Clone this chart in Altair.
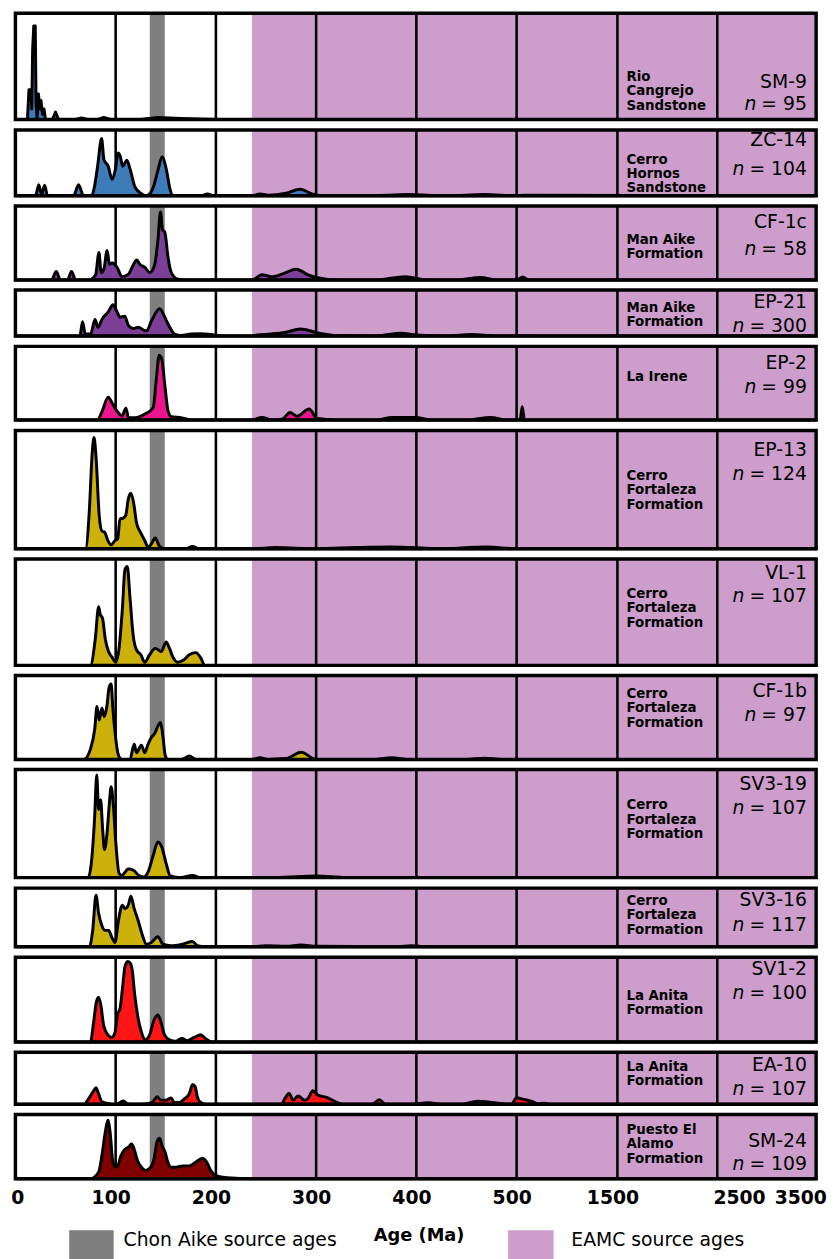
import altair as alt
import pandas as pd

# ---------------- data ----------------
SAMPLES = ["SM-9", "ZC-14", "CF-1c", "EP-21", "EP-2", "EP-13", "VL-1", "CF-1b",
           "SV3-19", "SV3-16", "SV1-2", "EA-10", "SM-24"]
N_VALUES = [95, 104, 58, 300, 99, 124, 107, 97, 107, 117, 100, 107, 109]
FORMATIONS = ["Rio\nCangrejo\nSandstone", "Cerro\nHornos\nSandstone",
              "Man Aike\nFormation", "Man Aike\nFormation", "La Irene",
              "Cerro\nFortaleza\nFormation", "Cerro\nFortaleza\nFormation",
              "Cerro\nFortaleza\nFormation", "Cerro\nFortaleza\nFormation",
              "Cerro\nFortaleza\nFormation", "La Anita\nFormation",
              "La Anita\nFormation", "Puesto El\nAlamo\nFormation"]

TICK_AGES = [0, 100, 200, 300, 400, 500, 1500, 2500, 3500]
GRID_AGES = [100, 200, 300, 400, 500, 1500, 2500]
CHON_AIKE = [134, 149]
EAMC = [236, 3500]

# relative density (fraction of panel height) vs age (Ma)
SM9_AGE = [0, 12, 13.5, 15.5, 16.3, 17.2, 18.3, 19.8, 20.6, 21.6, 23, 24.4, 25.5, 27, 28.5, 30, 37, 40, 43, 60,
           66, 72, 82, 88, 95, 125, 142, 165, 200, 3500]
SM9_DEN = [0, 0, 0.28, 0.28, 0.1, 0.66, 0.88, 0.88, 0.15, 0.02, 0.24, 0.1, 0.18, 0.05, 0.1, 0, 0, 0.07, 0, 0,
           0.015, 0, 0, 0.02, 0, 0, 0.02, 0.01, 0, 0]

ZC14_AGE = [0, 20, 23.3, 26, 29.2, 32, 58, 63, 68, 76, 79, 82, 86, 88.3, 92.5, 96.5, 99.7, 102.4, 104.6, 107,
            111.2, 114.5, 119.4, 126, 129.5, 134, 138, 142.4, 146.3, 150.6, 153.9, 157, 185, 191.6, 198, 236, 244,
            252, 270, 284, 296, 310, 350, 392, 430, 468, 500, 580, 3500]
ZC14_DEN = [0, 0, 0.17, 0.02, 0.16, 0, 0, 0.17, 0, 0, 0.15, 0.45, 0.87, 0.55, 0.45, 0.25, 0.4, 0.65, 0.6, 0.45,
            0.54, 0.4, 0.13, 0.03, 0, 0.03, 0.15, 0.4, 0.59, 0.4, 0.12, 0, 0, 0.03, 0, 0, 0.03,
            0.01, 0.04, 0.1, 0.03, 0, 0, 0.02, 0, 0.02, 0, 0.01, 0]

CF1C_AGE = [0, 36, 40.7, 45, 52, 56, 60, 73.5, 80, 83.3, 85.6, 88.3, 91.5, 93.8, 96.5, 101.4, 106.3, 112.9, 117.8,
            121, 124.3, 129.2, 134.2, 139, 142.4, 144.7, 146.7, 149, 152.3, 155.5, 162, 170, 236, 246, 256, 268,
            280, 292, 300, 323, 360, 389, 410, 440, 464, 480, 505, 560, 620, 3500]
CF1C_DEN = [0, 0, 0.115, 0, 0, 0.115, 0, 0, 0.07, 0.37, 0.1, 0.15, 0.4, 0.21, 0.23, 0.17, 0.045, 0.08, 0.21,
            0.27, 0.21, 0.17, 0.1, 0.21, 0.57, 0.92, 0.68, 0.65, 0.3, 0.1, 0.01, 0, 0, 0.07, 0.045, 0.09,
            0.146, 0.07, 0.035, 0, 0, 0.045, 0, 0, 0.035, 0, 0, 0.04, 0, 0]

EP21_AGE = [0, 64.3, 67, 69.6, 75, 79.4, 82.3, 86.6, 92.5, 97.4, 101.4, 104.6, 109, 112.9, 117.8, 122.7, 127.6,
            130.9, 135.8, 144, 149, 153.9, 158.8, 165, 175, 185, 195, 205, 236, 241, 255, 270, 284, 303, 320,
            360, 385, 400, 430, 455, 480, 3500]
EP21_DEN = [0, 0, 0.31, 0.04, 0.04, 0.36, 0.19, 0.37, 0.52, 0.68, 0.52, 0.41, 0.43, 0.22, 0.16, 0.19, 0.13,
            0.11, 0.33, 0.59, 0.41, 0.19, 0.04, 0.01, 0.04, 0.05, 0.03, 0, 0, 0.02, 0.04, 0.08, 0.15, 0.06, 0.01,
            0, 0.06, 0.02, 0, 0.03, 0, 0]

EP2_AGE = [0, 81.7, 86.6, 92.5, 96.5, 101.4, 106.3, 110.2, 112.9, 119.4, 129.2, 137.5, 140.7, 143.4, 146, 149,
           152.3, 155.5, 165.4, 175, 236, 246, 256, 266, 274, 281, 293, 301, 320, 360, 376, 399, 415, 450, 474,
           490, 535, 556, 577, 3500]
EP2_DEN = [0, 0, 0.12, 0.31, 0.23, 0.12, 0.054, 0.16, 0.03, 0.03, 0.08, 0.17, 0.57, 0.88, 0.83, 0.48,
           0.12, 0.045, 0.03, 0, 0, 0.035, 0, 0.01, 0.1, 0.05, 0.15, 0.02, 0, 0, 0.035, 0.035, 0, 0, 0.035,
           0, 0, 0.18, 0, 0]

EP13_AGE = [0, 69.9, 73.8, 76.4, 78.4, 80.4, 83.6, 86.3, 89, 92.2, 95.5, 99.4, 102, 104.3, 107.7, 110, 112.6,
            115.2, 117.9, 120.8, 124.1, 129, 132.3, 135.6, 139.5, 143.8, 148.7, 170, 176.7, 183, 236, 260, 300,
            340, 375, 395, 420, 470, 500, 3500]
EP13_DEN = [0, 0, 0.33, 0.78, 0.94, 0.78, 0.28, 0.15, 0.14, 0.07, 0.033, 0.07, 0.083, 0.25, 0.26, 0.28, 0.42,
            0.47, 0.39, 0.22, 0.15, 0.07, 0.014, 0.04, 0.09, 0.02, 0, 0, 0.02, 0, 0, 0.01, 0,
            0.01, 0.015, 0.01, 0, 0.015, 0, 0]

VL1_AGE = [0, 74.8, 79.7, 83, 84.6, 87, 89.6, 92.9, 96.2, 100.1, 103.4, 106.7, 109.3, 111.6, 114.2, 117.5,
           120.8, 125.1, 129, 133.9, 139.5, 145.5, 150.4, 153.7, 157, 161.9, 167.8, 173.4, 180, 184.9, 188.9, 3500]
VL1_DEN = [0, 0, 0.25, 0.55, 0.48, 0.44, 0.25, 0.13, 0.08, 0.03, 0.16, 0.53, 0.9, 0.93, 0.65, 0.28,
           0.145, 0.1, 0.03, 0.1, 0.16, 0.13, 0.22, 0.16, 0.08, 0.03, 0.05, 0.1, 0.12, 0.07, 0, 0]

CF1B_AGE = [0, 68.2, 74.8, 79.1, 81.4, 83.6, 86.3, 88.6, 91.2, 93.5, 95.5, 97.1, 99.4, 102.8, 106, 114.2, 118.5,
            120.8, 125.7, 129, 132.3, 135.6, 139.5, 142.2, 144.8, 147.1, 149.4, 152, 166, 173.4, 180, 236, 244,
            252, 270, 285, 300, 320, 360, 375, 390, 450, 468, 485, 3500]
CF1B_DEN = [0, 0, 0.12, 0.36, 0.63, 0.47, 0.61, 0.51, 0.63, 0.86, 0.9, 0.63, 0.32, 0.05, 0, 0, 0.18,
            0.08, 0.17, 0.08, 0.18, 0.26, 0.32, 0.4, 0.44, 0.28, 0.05, 0, 0, 0.04, 0, 0, 0.02,
            0, 0.01, 0.085, 0, 0, 0, 0.02, 0, 0, 0.015, 0, 0]

SV319_AGE = [0, 72.5, 75.8, 79.1, 81.1, 83, 85, 87, 88.9, 91.5, 93.5, 95.5, 97.8, 100.1, 103.4, 106, 112.6,
             117.5, 123.1, 128, 132.3, 137.3, 142.2, 146.1, 150.4, 154.6, 165, 176.7, 185, 260, 300, 330, 3500]
SV319_DEN = [0, 0, 0.14, 0.57, 0.95, 0.63, 0.72, 0.45, 0.26, 0.42, 0.66, 0.84, 0.66, 0.33, 0.04, 0.02, 0.08,
             0.07, 0.02, 0.005, 0.05, 0.2, 0.33, 0.28, 0.13, 0.015, 0, 0.02, 0, 0, 0.015, 0, 0]

SV316_AGE = [0, 73.8, 77.1, 80.4, 83, 86.3, 89.6, 93, 96.2, 99.4, 102.8, 106.7, 109.3, 112.6, 115.2, 118.5,
             122.4, 126.3, 130.6, 135.6, 142.2, 147.1, 155, 166.9, 176.7, 181.6, 190, 236, 250, 270, 285, 300,
             380, 395, 410, 3500]
SV316_DEN = [0, 0, 0.28, 0.88, 0.57, 0.36, 0.28, 0.28, 0.16, 0.075, 0.45, 0.71, 0.65, 0.71, 0.86, 0.65,
             0.45, 0.22, 0.046, 0.075, 0.17, 0.046, 0.02, 0.046, 0.09, 0.02, 0, 0, 0.02, 0.01, 0.03, 0.01,
             0, 0.02, 0, 0]

SV12_AGE = [0, 74.8, 78.1, 80.7, 83, 85.3, 88, 92.2, 96.2, 99.4, 102, 104.3, 106.7, 109.3, 111.9, 114.6, 116.5,
            119.1, 122.4, 125.7, 129.7, 133.9, 138.3, 142.2, 145.5, 148.7, 153.7, 160, 166.2, 171.1, 178.3,
            184.9, 189.8, 196, 3500]
SV12_DEN = [0, 0, 0.24, 0.47, 0.53, 0.43, 0.2, 0.085, 0.054, 0.115, 0.33, 0.39, 0.62, 0.89, 0.95, 0.93, 0.85,
            0.55, 0.28, 0.115, 0.027, 0.085, 0.26, 0.32, 0.22, 0.085, 0.027, 0.01, 0.046, 0.015, 0.054,
            0.085, 0.04, 0, 0]

EA10_AGE = [0, 68.2, 73.8, 78.1, 80.4, 83, 86.3, 92.9, 100, 104.3, 107.7, 111, 116, 132.3, 137.3, 141.5, 144.8,
            150.4, 155.3, 158.6, 163.5, 168.4, 173.4, 176.7, 179.3, 181.6, 184.9, 190, 265.5, 268.8, 273, 277,
            281.9, 288.5, 291.8, 296.7, 301.6, 311.5, 318, 326.2, 355.8, 363, 369, 395, 411.7, 425, 445, 461,
            477.4, 495, 500.5, 559, 609, 658, 708, 774, 836, 3500]
EA10_DEN = [0, 0, 0.13, 0.26, 0.32, 0.2, 0.05, 0.013, 0, 0.033, 0.066, 0.02, 0, 0.013, 0.05, 0.145, 0.08,
            0.08, 0.12, 0.033, 0.033, 0.1, 0.2, 0.38, 0.34, 0.13, 0.033, 0, 0, 0.11, 0.21, 0.08,
            0.16, 0.08, 0.11, 0.26, 0.18, 0.125, 0.06, 0, 0, 0.09, 0, 0, 0.03, 0, 0, 0.06,
            0.03, 0, 0.125, 0.1, 0.08, 0.05, 0.01, 0.02, 0, 0]

SM24_AGE = [0, 74.8, 83, 86.3, 89.6, 92.2, 94.5, 96.8, 99.4, 102, 105.3, 109.3, 112.6, 115.9, 118.5, 121.8,
            125.7, 129.7, 133.9, 138.3, 141.5, 143.8, 146.4, 149.4, 152, 155.3, 160.3, 166.9, 173.4, 180, 186.6,
            190.8, 194.8, 199.7, 211.2, 237, 3500]
SM24_DEN = [0, 0, 0.1, 0.36, 0.72, 0.91, 0.72, 0.31, 0.18, 0.2, 0.36, 0.46, 0.49, 0.54, 0.46, 0.28,
            0.18, 0.13, 0.16, 0.31, 0.59, 0.63, 0.51, 0.41, 0.26, 0.18, 0.18, 0.2, 0.2, 0.26, 0.32,
            0.26, 0.13, 0.05, 0.015, 0, 0]

AGES = [SM9_AGE, ZC14_AGE, CF1C_AGE, EP21_AGE, EP2_AGE, EP13_AGE, VL1_AGE, CF1B_AGE,
        SV319_AGE, SV316_AGE, SV12_AGE, EA10_AGE, SM24_AGE]
DENS = [SM9_DEN, ZC14_DEN, CF1C_DEN, EP21_DEN, EP2_DEN, EP13_DEN, VL1_DEN, CF1B_DEN,
        SV319_DEN, SV316_DEN, SV12_DEN, EA10_DEN, SM24_DEN]

# ---------------- styling / layout ----------------
BLUE, PURPLE, MAGENTA, OLIVE, RED, DARKRED = "#3E7CB9", "#7B3F98", "#EC168C", "#CCB10A", "#FE1414", "#800000"
COLORS = [BLUE, BLUE, PURPLE, PURPLE, MAGENTA, OLIVE, OLIVE, OLIVE, OLIVE, OLIVE, RED, RED, DARKRED]
INTERP = ["linear"] + ["monotone"] * 12
PINK = "#CD9DCB"
GRAY = "#7F7F7F"
FONT = "DejaVu Sans"

W = 810
HEIGHTS = [107.5, 66.7, 74.8, 46.4, 74.4, 119.7, 107.7, 84.8, 109.4, 59.4, 85.7, 52.7, 65]
FORM_Y = [68.5, 34, 38, 22, 35.5, 50, 39.5, 22.7, 40.3, 17, 43.3, 19, 19.7]
ID_Y = [76, 16.7, 22.7, 18.3, 22.5, 26, 20, 22, 21, 18.5, 18, 19.5, 33]
N_Y = [98, 45.7, 49.4, 42, 47.3, 50, 44, 46, 45, 43, 42, 43, 56]
FORM_X = 618.1
ID_X = 800.7
ID_SIZE = 19

XS = alt.Scale(domain=[0, 500, 1500, 2500, 3500], range=[0, 507, 609, 710, W], nice=False, zero=False)

BOTTOM_AXIS = alt.Axis(
    values=TICK_AGES, format="d", title=None, grid=False, ticks=False, domain=False,
    labelFont=FONT, labelFontWeight="bold", labelFontSize=19, labelColor="black",
    labelPadding=10, labelFlush=False, labelOverlap=False,
    labelOffset={"condition": [{"test": "datum.value == 0", "value": 2},
                               {"test": "datum.value == 2500", "value": 22},
                               {"test": "datum.value == 3500", "value": -16}],
                 "value": -5},
)


def panel(i):
    h = HEIGHTS[i]
    last = i == len(SAMPLES) - 1
    ax = BOTTOM_AXIS if last else None

    def X(field):
        return alt.X(field, scale=XS, axis=ax, title=None)

    eamc = alt.Chart(pd.DataFrame({"a": [EAMC[0]], "b": [EAMC[1]]})).mark_rect(color=PINK).encode(
        x=X("a:Q"), x2="b:Q", y=alt.value(0), y2=alt.value(h))
    chon = alt.Chart(pd.DataFrame({"a": [CHON_AIKE[0]], "b": [CHON_AIKE[1]]})).mark_rect(color=GRAY).encode(
        x=X("a:Q"), x2="b:Q", y=alt.value(0), y2=alt.value(h))
    grid = alt.Chart(pd.DataFrame({"g": GRID_AGES})).mark_rule(color="black", strokeWidth=2.6).encode(
        x=X("g:Q"), y=alt.value(0), y2=alt.value(h))
    area = alt.Chart(pd.DataFrame({"age": AGES[i], "dens": DENS[i]})).mark_area(
        fill=COLORS[i], stroke="black", strokeWidth=3, strokeJoin="round",
        interpolate=INTERP[i]).encode(
        x=X("age:Q"),
        y=alt.Y("dens:Q", scale=alt.Scale(domain=[0, 1], nice=False), axis=None))
    border = alt.Chart(pd.DataFrame({"k": [0]})).mark_rect(
        fill="transparent", stroke="black", strokeWidth=3.5).encode(
        x=alt.value(0), x2=alt.value(W), y=alt.value(0), y2=alt.value(h))
    form = alt.Chart(pd.DataFrame({"t": [FORMATIONS[i]]})).mark_text(
        align="left", baseline="alphabetic", font=FONT, fontWeight="bold", fontSize=13.5,
        lineBreak="\n", lineHeight=14.5, color="black").encode(
        text="t:N", x=alt.value(FORM_X), y=alt.value(FORM_Y[i]))
    sid = alt.Chart(pd.DataFrame({"t": [SAMPLES[i]]})).mark_text(
        align="right", baseline="alphabetic", font=FONT, fontSize=ID_SIZE, color="black").encode(
        text="t:N", x=alt.value(ID_X), y=alt.value(ID_Y[i]))
    eq_txt = "= " + str(N_VALUES[i])
    neq = alt.Chart(pd.DataFrame({"t": [eq_txt]})).mark_text(
        align="right", baseline="alphabetic", font=FONT, fontSize=ID_SIZE, color="black").encode(
        text="t:N", x=alt.value(ID_X), y=alt.value(N_Y[i]))
    eq_w = ID_SIZE * (0.838 + 0.318 + 0.636 * len(str(N_VALUES[i])))
    nit = alt.Chart(pd.DataFrame({"t": ["n"]})).mark_text(
        align="right", baseline="alphabetic", font=FONT, fontSize=ID_SIZE, fontStyle="italic",
        color="black").encode(
        text="t:N", x=alt.value(ID_X - eq_w - 5), y=alt.value(N_Y[i]))

    layers = [eamc, chon, grid, area, border, form, sid, neq, nit]

    if last:
        leg_gray = alt.Chart(pd.DataFrame({"k": [0]})).mark_rect(color=GRAY).encode(
            x=alt.value(54.4), x2=alt.value(99.4), y=alt.value(h + 52), y2=alt.value(h + 85))
        leg_pink = alt.Chart(pd.DataFrame({"k": [0]})).mark_rect(color=PINK).encode(
            x=alt.value(498.4), x2=alt.value(544.4), y=alt.value(h + 52), y2=alt.value(h + 85))
        leg_t1 = alt.Chart(pd.DataFrame({"t": ["Chon Aike source ages"]})).mark_text(
            align="left", baseline="alphabetic", font=FONT, fontSize=19, color="black").encode(
            text="t:N", x=alt.value(109.4), y=alt.value(h + 68))
        leg_t2 = alt.Chart(pd.DataFrame({"t": ["EAMC source ages"]})).mark_text(
            align="left", baseline="alphabetic", font=FONT, fontSize=19, color="black").encode(
            text="t:N", x=alt.value(562.4), y=alt.value(h + 68))
        xtitle = alt.Chart(pd.DataFrame({"t": ["Age (Ma)"]})).mark_text(
            align="center", baseline="alphabetic", font=FONT, fontSize=18, fontWeight="bold",
            color="black").encode(
            text="t:N", x=alt.value(408.4), y=alt.value(h + 63))
        layers += [leg_gray, leg_pink, leg_t1, leg_t2, xtitle]

    return alt.layer(*layers).properties(width=W, height=h)


chart = alt.vconcat(*[panel(i) for i in range(len(SAMPLES))], spacing=6).resolve_scale(
    y="independent").properties(
    padding={"left": 2.5, "right": 0, "top": -4, "bottom": 0}, background="white").configure(
    font=FONT).configure_view(strokeWidth=0)

chart.save("out.html", embed_options={"renderer": "svg", "actions": False})
